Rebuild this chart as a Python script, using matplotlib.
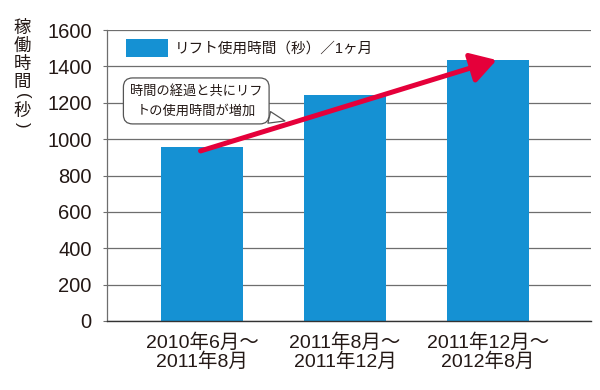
import matplotlib
matplotlib.use("Agg")
import matplotlib.pyplot as plt
import numpy as np

plt.rcParams['font.family'] = ['Liberation Sans', 'Noto Sans CJK JP', 'DejaVu Sans']

categories = ["2010年6月～\n2011年8月", "2011年8月～\n2011年12月", "2011年12月～\n2012年8月"]
values = [955, 1240, 1435]
yticks = [0, 200, 400, 600, 800, 1000, 1200, 1400, 1600]
legend_label = "リフト使用時間（秒）／1ヶ月"
ylabel_chars = ["稼", "働", "時", "間", "(", "秒", ")"]
note = "時間の経過と共にリフ\nトの使用時間が増加"

bar_color = "#1591d3"
arrow_color = "#e5003a"
grid_color = "#6e6e6e"
text_color = "#231815"

fig = plt.figure(figsize=(6, 3.9), dpi=100)
ax = fig.add_axes([107/600, 1-321/390, (591-107)/600, (321-30)/390])

x = np.arange(len(categories))
ax.bar(x, values, width=0.575, color=bar_color, label=legend_label, zorder=2)

ax.set_xlim(-0.664, 2.72)
ax.set_ylim(0, 1600)
ax.set_yticks(yticks)
ax.set_yticklabels([str(v) for v in yticks], fontsize=14.5, color=text_color)
ax.set_xticks(x)
ax.set_xticklabels(categories, fontsize=14, color=text_color, linespacing=1.0)
ax.tick_params(axis='x', length=0, pad=9)
ax.tick_params(axis='y', length=3, width=0.8, color=grid_color, pad=8, direction='out')

ax.grid(axis='y', color=grid_color, linewidth=0.9, zorder=0)
ax.set_axisbelow(True)
for s in ['top', 'right']:
    ax.spines[s].set_visible(False)
ax.spines['left'].set_color(grid_color)
ax.spines['left'].set_linewidth(0.9)
ax.spines['bottom'].set_color('#333333')
ax.spines['bottom'].set_linewidth(1.0)

leg = ax.legend(loc='upper left', bbox_to_anchor=(0.022, 1.0), frameon=False,
                fontsize=10.5, handlelength=2.85, handleheight=1.5, handletextpad=0.5,
                borderaxespad=0.2)
for t in leg.get_texts():
    t.set_color(text_color)

# red trend arrow
ax.annotate("", xy=(2.06, 1435), xytext=(-0.01, 935),
            arrowprops=dict(arrowstyle="-|>,head_length=0.7,head_width=0.42", lw=3.6,
                            color=arrow_color, mutation_scale=22, shrinkA=0, shrinkB=0),
            zorder=4)

# callout
ax.annotate(note, xy=(0.58, 1100), xytext=(-0.04, 1210), ha='center', va='center',
            fontsize=9.5, color=text_color, linespacing=1.75,
            bbox=dict(boxstyle="round,pad=0.5,rounding_size=0.7", fc="white", ec="#555555", lw=0.9),
            arrowprops=dict(arrowstyle="wedge,tail_width=0.9,shrink_factor=0.5", fc="white",
                            ec="#555555", lw=0.9, shrinkA=0, shrinkB=0),
            zorder=5)

# vertical y label (parentheses rotated to vertical form)
ypos = 28
for ch in ylabel_chars:
    if ch in "()":
        fig.text(22/600, 1-(ypos - 4)/390, ch, ha='center', va='center', rotation=-90,
                 rotation_mode='anchor', fontsize=12, color=text_color)
        ypos += 11
    else:
        fig.text(22/600, 1-ypos/390, ch, ha='center', va='center', fontsize=12.5,
                 color=text_color)
        ypos += 18

fig.savefig("out.png", dpi=100)
